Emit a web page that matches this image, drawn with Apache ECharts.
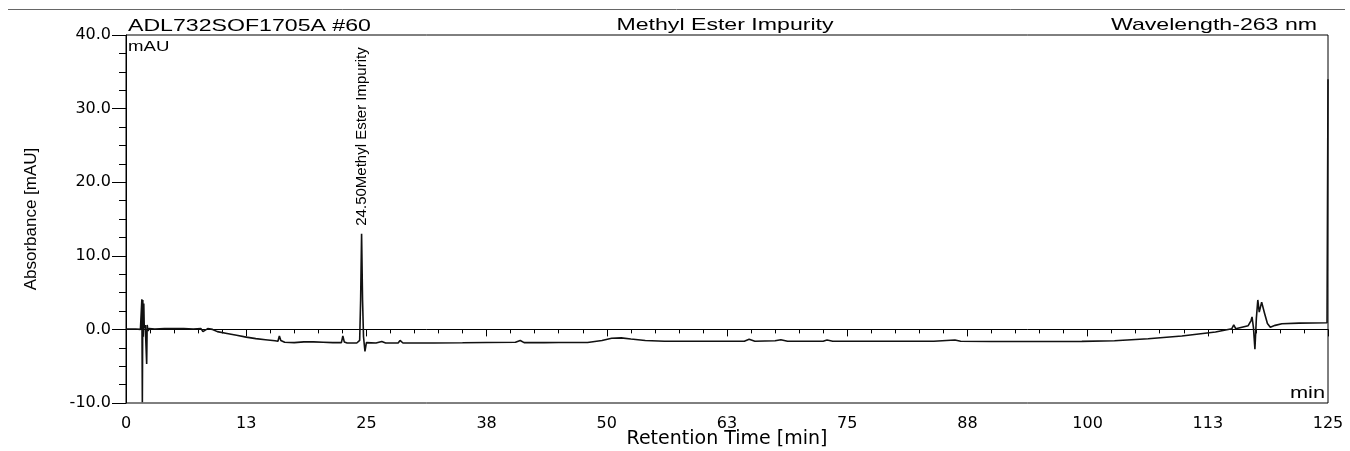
<!DOCTYPE html>
<html>
<head>
<meta charset="utf-8">
<script src="https://cdn.jsdelivr.net/npm/echarts@6/dist/echarts.min.js"></script>
<style>
html, body { margin: 0; padding: 0; background: #fff; }
#chromDiv { width: 1350px; height: 451px; }
</style>
</head>
<body>
<div id="chromDiv"></div>
<script>
// retention time [min] and absorbance [mAU]
var retentionTime = [
	0, 0.5, 1.0, 1.5, 1.6, 1.65, 1.7, 1.75, 1.8, 1.85, 1.9, 2.0, 2.1, 2.15, 2.2, 2.3, 2.4, 2.6,
	3.0, 4.0, 5.0, 6.0, 7.0, 7.8, 8.0, 8.2, 8.5, 8.7, 9.0, 9.5, 10.5, 11.5, 12.5, 13.5, 14.5,
	15.5, 15.8, 15.95, 16.1, 16.5, 17.5, 18.5, 19.5, 20.5, 21.5, 22.4, 22.55, 22.7, 23.0, 24.0,
	24.3, 24.4, 24.5, 24.6, 24.7, 24.85, 25.0, 26.0, 26.6, 27.0, 28.3, 28.5, 28.8, 29.5, 32.0,
	35.0, 37.5, 40.5, 41.0, 41.4, 43.5, 45.0, 48.0, 49.5, 50.5, 51.5, 52.5, 54.0, 56.0, 58.0,
	61.0, 64.3, 64.8, 65.4, 67.5, 68.1, 68.8, 72.5, 72.9, 73.5, 76.0, 80.0, 84.0, 86.2, 86.8,
	90.0, 95.0, 99.4, 102.8, 106.3, 109.8, 113.3, 115.0, 115.2, 115.4, 116.7, 117.0, 117.1,
	117.25, 117.4, 117.55, 117.7, 117.85, 118.1, 118.4, 118.7, 119.0, 119.5, 120.2, 122.0,
	124.9, 125.0
];
var absorbance = [
	0.05, 0.05, 0.05, 0.0, 0.1, 4.1, -9.9, 4.0, -1.0, 3.5, 0.2, 0.6, 0.8, -4.7, 0.6, -0.2, 0.1, 0.0,
	0.05, 0.1, 0.1, 0.1, 0.05, 0.1, -0.3, -0.4, 0.1, 0.2, 0.0, -0.3, -0.55, -0.8, -1.05, -1.25, -1.4,
	-1.55, -1.6, -0.9, -1.5, -1.75, -1.8, -1.7, -1.7, -1.75, -1.8, -1.8, -0.9, -1.7, -1.85, -1.85,
	-1.5, 4.0, 13.0, 4.0, -1.0, -3.0, -1.8, -1.85, -1.65, -1.85, -1.85, -1.5, -1.85, -1.85, -1.85,
	-1.82, -1.78, -1.75, -1.5, -1.8, -1.8, -1.78, -1.78, -1.5, -1.2, -1.15, -1.3, -1.5, -1.6, -1.6,
	-1.6, -1.6, -1.35, -1.6, -1.55, -1.4, -1.6, -1.6, -1.45, -1.6, -1.62, -1.62, -1.62, -1.45, -1.6,
	-1.65, -1.65, -1.63, -1.54, -1.27, -0.9, -0.35, 0.1, 0.6, 0.1, 0.5, 1.2, 1.7,
	0.2, -2.7, 1.5, 4.0, 2.35, 3.7, 2.2, 0.8, 0.3, 0.55, 0.77, 0.85,
	0.9, 34.0
];

var xTickLabels = ['0', '13', '25', '38', '50', '63', '75', '88', '100', '113', '125'];
var yTickLabels = ['-10.0', '0.0', '10.0', '20.0', '30.0', '40.0'];

var peakTime = 24.5;
var peakHeight = 13.0;
var peakName = '24.50Methyl Ester Impurity';

var sampleTitle = 'ADL732SOF1705A #60';
var chartTitle = 'Methyl Ester Impurity';
var wavelengthTitle = 'Wavelength-263 nm';

var traceData = [];
for (var i = 0; i < retentionTime.length; i++) {
	traceData.push([retentionTime[i], absorbance[i]]);
}

var chromChart = echarts.init(document.getElementById('chromDiv'));

var option = {
	animation : false,
	backgroundColor : '#fff',
	grid : {
		left : 126,
		right : 22,
		top : 35,
		bottom : 48,
		outerBoundsMode : 'none',
		containLabel : false,
		show : true,
		borderColor : '#000',
		borderWidth : 1
	},
	xAxis : {
		type : 'value',
		min : 0,
		max : 125,
		interval : 12.5,
		name : 'Retention Time [min]',
		nameLocation : 'middle',
		nameGap : 27,
		nameMoveOverlap : false,
		nameTextStyle : { fontFamily : 'DejaVu Sans', fontSize : 19, color : '#000' },
		axisLine : { lineStyle : { color : '#000', width : 1 } },
		axisTick : { length : 7, lineStyle : { color : '#000' } },
		minorTick : { show : true, splitNumber : 5, length : 4, lineStyle : { color : '#000' } },
		splitLine : { show : false },
		axisLabel : {
			margin : 13,
			fontFamily : 'DejaVu Sans',
			fontSize : 16,
			color : '#000',
			formatter : function(v) {
				return xTickLabels[Math.round(v / 12.5)];
			}
		}
	},
	yAxis : {
		type : 'value',
		min : -10,
		max : 40,
		interval : 10,
		name : 'Absorbance [mAU]',
		nameLocation : 'middle',
		nameGap : 86,
		nameMoveOverlap : false,
		nameTextStyle : { fontFamily : 'Liberation Sans', fontSize : 17, color : '#000' },
		axisLine : { show : true, lineStyle : { color : '#000', width : 1 } },
		axisTick : { show : true, length : 14, lineStyle : { color : '#000' } },
		minorTick : { show : true, splitNumber : 4, length : 7, lineStyle : { color : '#000' } },
		splitLine : { show : false },
		axisLabel : {
			margin : 15,
			fontFamily : 'DejaVu Sans',
			fontSize : 16,
			color : '#000',
			formatter : function(v) {
				return yTickLabels[Math.round((v + 10) / 10)];
			}
		}
	},
	series : [{
		type : 'line',
		data : traceData,
		showSymbol : false,
		symbol : 'none',
		sampling : 'none',
		lineStyle : { color : '#111', width : 1.6 },
		markPoint : {
			symbol : 'circle',
			symbolSize : 0,
			data : [{ coord : [peakTime, peakHeight], value : peakName }],
			label : {
				show : true,
				position : 'top',
				distance : 8,
				rotate : 90,
				align : 'left',
				verticalAlign : 'middle',
				fontFamily : 'Liberation Sans',
				fontSize : 15,
				color : '#000',
				formatter : function(p) {
					return p.value;
				}
			}
		}
	}],
	graphic : [
		{ type : 'line', shape : { x1 : 8, y1 : 9.5, x2 : 1345, y2 : 9.5 }, style : { stroke : '#666', lineWidth : 1 } },
		{ type : 'text', x : 128, y : 26, scaleX : 1.36,
			style : { text : sampleTitle, font : '17px "Liberation Sans"', fill : '#000', textAlign : 'left', textVerticalAlign : 'middle' } },
		{ type : 'text', x : 725, y : 25, scaleX : 1.36,
			style : { text : chartTitle, font : '17px "Liberation Sans"', fill : '#000', textAlign : 'center', textVerticalAlign : 'middle' } },
		{ type : 'text', x : 1317, y : 25, scaleX : 1.36,
			style : { text : wavelengthTitle, font : '17px "Liberation Sans"', fill : '#000', textAlign : 'right', textVerticalAlign : 'middle' } },
		{ type : 'text', x : 128, y : 47, scaleX : 1.33,
			style : { text : 'mAU', font : '14px "Liberation Sans"', fill : '#000', textAlign : 'left', textVerticalAlign : 'middle' } },
		{ type : 'text', x : 1325, y : 394, scaleX : 1.36,
			style : { text : 'min', font : '16px "Liberation Sans"', fill : '#000', textAlign : 'right', textVerticalAlign : 'middle' } }
	]
};

chromChart.setOption(option);
</script>
</body>
</html>
